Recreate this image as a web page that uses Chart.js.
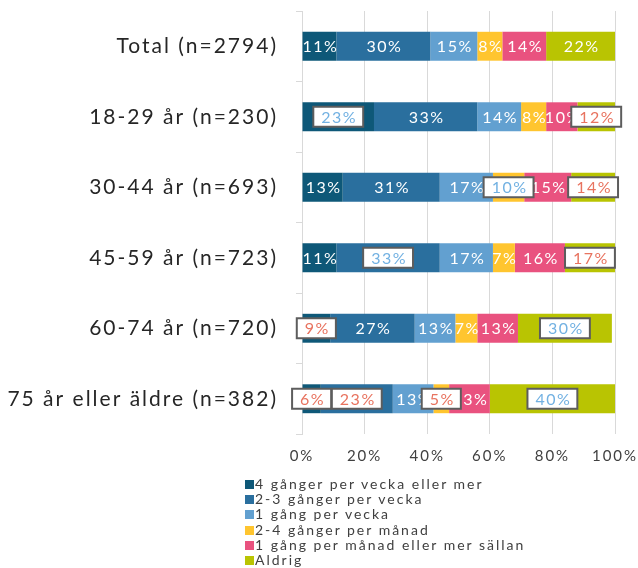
<!DOCTYPE html>
<html lang="sv">
<head>
<meta charset="utf-8">
<title>Hur ofta</title>
<script src="https://cdn.jsdelivr.net/npm/chart.js@4.4.1/dist/chart.umd.min.js"></script>
<style>
  body { margin: 0; background: #fff; }
  #wrap { position: relative; width: 638px; height: 568px; }
  #legend {
    position: absolute; left: 245px; top: 476px;
    font: 14px Lato, sans-serif; letter-spacing: 2px; color: #404040;
  }
  #legend div { height: 15.2px; line-height: 15.2px; white-space: nowrap; }
  #legend span { display: inline-block; width: 9px; height: 9px; margin-right: 1px; vertical-align: 0px; }
</style>
</head>
<body>
<div id="wrap">
  <canvas id="myChart" width="638" height="568"></canvas>
  <div id="legend"></div>
</div>
<script>
const categories = ['Total (n=2794)', '18-29 år (n=230)', '30-44 år (n=693)', '45-59 år (n=723)', '60-74 år (n=720)', '75 år eller äldre (n=382)'];
const seriesNames = ['4 gånger per vecka eller mer', '2-3 gånger per vecka', '1 gång per vecka', '2-4 gånger per månad', '1 gång per månad eller mer sällan', 'Aldrig'];

// andel i procent per grupp
const fyraPerVecka = [11, 23, 13, 11, 9, 6];
const tvaTrePerVecka = [30, 33, 31, 33, 27, 23];
const enPerVecka = [15, 14, 17, 17, 13, 13];
const tvaFyraPerManad = [8, 8, 10, 7, 7, 5];
const enPerManad = [14, 10, 15, 16, 13, 13];
const aldrig = [22, 12, 14, 17, 30, 40];

const colors = ['#0e5878', '#2a6f9e', '#62a0d0', '#ffc52f', '#e9527f', '#b9c402'];

// etiketter som visas i ruta: [serie, grupp, textfärg]
const boxedLabels = [
  [0, 1, 'blue'], [5, 1, 'red'],
  [3, 2, 'blue'], [5, 2, 'red'],
  [1, 3, 'blue'], [5, 3, 'red'],
  [0, 4, 'red'], [5, 4, 'blue'],
  [0, 5, 'red'], [1, 5, 'red'], [3, 5, 'red'], [5, 5, 'blue']
];
const boxText = { blue: '#72b1e2', red: '#e8735f' };

const values = [fyraPerVecka, tvaTrePerVecka, enPerVecka, tvaFyraPerManad, enPerManad, aldrig];

Chart.defaults.font.family = 'Lato, sans-serif';

const valueLabels = {
  id: 'valueLabels',
  afterDatasetsDraw(chart) {
    const { ctx, chartArea } = chart;
    const isBoxed = (d, i) => boxedLabels.find(b => b[0] === d && b[1] === i);
    const centerOf = (bar) => {
      const a = Math.max(Math.min(bar.base, bar.x), chartArea.left);
      const b = Math.min(Math.max(bar.base, bar.x), chartArea.right);
      return (a + b) / 2;
    };
    ctx.save();
    ctx.font = '16px Lato, sans-serif';
    ctx.letterSpacing = '1.5px';
    ctx.textAlign = 'center';
    ctx.textBaseline = 'middle';
    // vanliga etiketter först
    chart.data.datasets.forEach((ds, d) => {
      chart.getDatasetMeta(d).data.forEach((bar, i) => {
        if (isBoxed(d, i)) return;
        ctx.fillStyle = '#ffffff';
        ctx.fillText(ds.data[i] + '%', centerOf(bar) + 1, bar.y + 1);
      });
    });
    // sedan etiketterna i rutor ovanpå
    boxedLabels.forEach(([d, i, c]) => {
      const bar = chart.getDatasetMeta(d).data[i];
      const txt = chart.data.datasets[d].data[i] + '%';
      const w = ctx.measureText(txt).width + 14;
      const h = 20;
      const cx = centerOf(bar);
      ctx.fillStyle = '#ffffff';
      ctx.fillRect(cx - w / 2, bar.y - h / 2, w, h);
      ctx.strokeStyle = '#5d5d5d';
      ctx.lineWidth = 2;
      ctx.strokeRect(cx - w / 2, bar.y - h / 2, w, h);
      ctx.fillStyle = boxText[c];
      ctx.fillText(txt, cx + 1, bar.y + 1);
    });
    ctx.restore();
  }
};

const spacing = {
  id: 'spacing',
  beforeDraw(chart) { chart.ctx.letterSpacing = '2px'; }
};

const ctx = document.getElementById('myChart').getContext('2d');
const chart = new Chart(ctx, {
  type: 'bar',
  data: {
    labels: categories,
    datasets: seriesNames.map((name, k) => ({
      label: name,
      data: values[k],
      backgroundColor: colors[k],
      borderWidth: 0,
      clip: 0,
      categoryPercentage: 1,
      barPercentage: 0.41
    }))
  },
  options: {
    indexAxis: 'y',
    responsive: false,
    animation: false,
    devicePixelRatio: 1,
    layout: { padding: { top: 11, right: 0, left: 0, bottom: 0 } },
    plugins: {
      legend: { display: false },
      tooltip: { enabled: false }
    },
    scales: {
      x: {
        stacked: true,
        min: 0,
        max: 100,
        ticks: {
          stepSize: 20,
          padding: 13,
          color: '#404040',
          font: { size: 15 },
          callback: v => v + '%'
        },
        grid: { color: '#d9d9d9', drawTicks: false },
        border: { display: false },
        afterFit: s => { s.height = 134; s.paddingLeft = 0; s.paddingRight = 23; }
      },
      y: {
        stacked: true,
        ticks: {
          color: '#262626',
          font: { size: 21 },
          padding: 18
        },
        grid: { drawOnChartArea: false, color: '#d9d9d9', tickLength: 6, offset: true },
        border: { color: '#d9d9d9' },
        afterFit: s => { s.width = 302; s.paddingTop = 0; s.paddingBottom = 0; }
      }
    }
  },
  plugins: [spacing, valueLabels]
});

// förklaring under diagrammet
const legendEl = document.getElementById('legend');
chart.data.datasets.forEach(ds => {
  const row = document.createElement('div');
  const sw = document.createElement('span');
  sw.style.background = ds.backgroundColor;
  row.appendChild(sw);
  row.appendChild(document.createTextNode(ds.label));
  legendEl.appendChild(row);
});
</script>
</body>
</html>
